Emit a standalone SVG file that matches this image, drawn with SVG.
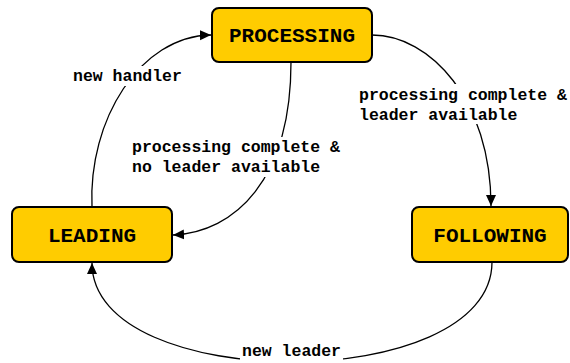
<svg xmlns="http://www.w3.org/2000/svg" width="570" height="363" viewBox="0 0 570 363">
  <style>
    .state rect { fill: #FFCC00; stroke: #000; stroke-width: 2; }
    .state text { font-family: "Liberation Mono", "Courier New", monospace; font-weight: bold; font-size: 21px; fill: #000; text-anchor: middle; }
    .edge { fill: none; stroke: #000; stroke-width: 1.3; marker-end: url(#arrow); }
    .label rect { fill: #fff; }
    .label text { font-family: "Liberation Mono", "Courier New", monospace; font-weight: bold; font-size: 16.5px; fill: #000; }
  </style>
  <defs>
    <marker id="arrow" markerUnits="userSpaceOnUse" markerWidth="12" markerHeight="12" viewBox="0 0 12 12" refX="11" refY="6" orient="auto">
      <path d="M0,1 L11,6 L0,11 Z" fill="#000"/>
    </marker>
  </defs>

  <!-- transitions -->
  <g id="connectors">
    <path class="edge" d="M92,207 C88,120 140,36 211,35"/>
    <path class="edge" d="M291,62 C291,180 235,232 173,235"/>
    <path class="edge" d="M372,35 C430,35 491,100 491,206"/>
    <path class="edge" d="M492,262 C492,395 92,395 92,263"/>
  </g>

  <!-- transition labels -->
  <g id="label-new-handler" class="label">
    <rect x="72" y="66" width="112" height="20"/>
    <text x="73" y="81">new handler</text>
  </g>
  <g id="label-no-leader" class="label">
    <rect x="130" y="137" width="212" height="40"/>
    <text x="132" y="152">processing complete &amp;</text>
    <text x="132" y="172">no leader available</text>
  </g>
  <g id="label-leader" class="label">
    <rect x="357" y="84" width="213" height="40"/>
    <text x="359" y="100">processing complete &amp;</text>
    <text x="359" y="120">leader available</text>
  </g>
  <g id="label-new-leader" class="label">
    <rect x="240" y="341" width="103" height="22"/>
    <text x="242" y="356">new leader</text>
  </g>

  <!-- states -->
  <g id="processing" class="state">
    <rect x="212" y="8" width="160" height="54" rx="7"/>
    <text x="292" y="42">PROCESSING</text>
  </g>
  <g id="leading" class="state">
    <rect x="12" y="207" width="160" height="55" rx="7"/>
    <text x="92" y="242">LEADING</text>
  </g>
  <g id="following" class="state">
    <rect x="412" y="207" width="156" height="55" rx="7"/>
    <text x="490" y="242">FOLLOWING</text>
  </g>
</svg>
